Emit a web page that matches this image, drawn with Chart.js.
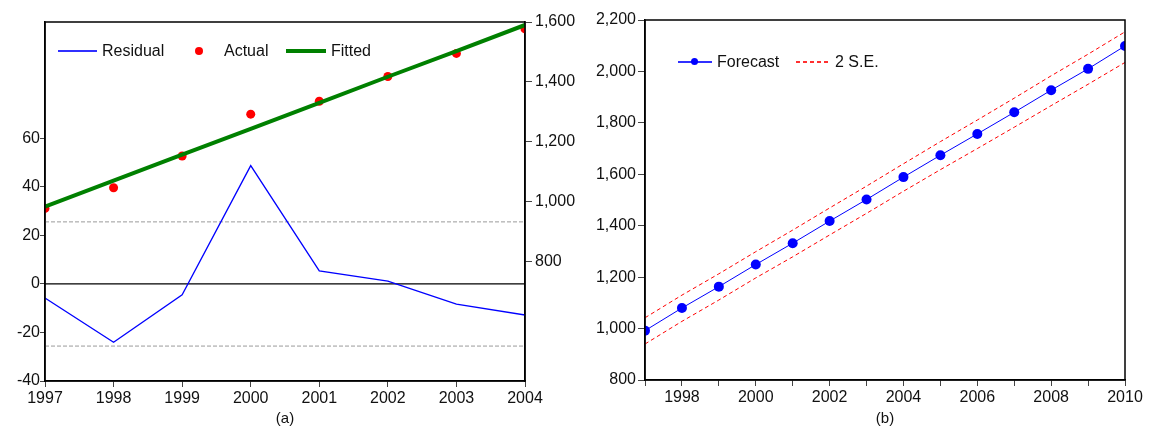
<!DOCTYPE html>
<html>
<head>
<meta charset="utf-8">
<script src="https://cdn.jsdelivr.net/npm/chart.js@4.4.1/dist/chart.umd.min.js"></script>
<style>
  html, body { margin: 0; padding: 0; background: #fff; }
  body { width: 1151px; height: 430px; position: relative; overflow: hidden; font-family: "Liberation Sans", Arial, sans-serif; }
  .panel { position: absolute; top: 0; height: 430px; }
  .lg { position: absolute; font-size: 16px; line-height: 18px; color: #111; white-space: nowrap; }
  .mark { position: absolute; }
</style>
</head>
<body>
<div class="panel" style="left:0;width:590px"><canvas id="fitChart" width="590" height="430"></canvas></div>
<div class="panel" style="left:590px;width:561px"><canvas id="forecastChart" width="561" height="430"></canvas></div>

<!-- legend (a) -->
<div class="mark" style="left:58px;top:50px;width:39px;height:1.5px;background:#3030ff"></div>
<div class="lg" style="left:102px;top:42px">Residual</div>
<div class="mark" style="left:195px;top:46.5px;width:8px;height:8px;border-radius:50%;background:#ff0000"></div>
<div class="lg" style="left:224px;top:42px">Actual</div>
<div class="mark" style="left:286px;top:49px;width:40px;height:4px;background:#008000"></div>
<div class="lg" style="left:331px;top:42px">Fitted</div>

<!-- legend (b) -->
<div class="mark" style="left:678px;top:61px;width:34px;height:1.5px;background:#3030ff"></div>
<div class="mark" style="left:690.5px;top:58px;width:7px;height:7px;border-radius:50%;background:#0000ff"></div>
<div class="lg" style="left:717px;top:53px">Forecast</div>
<div class="mark" style="left:796px;top:61px;width:34px;height:1.5px;background:repeating-linear-gradient(90deg,#ff3030 0 4px,transparent 4px 7px)"></div>
<div class="lg" style="left:835px;top:53px">2 S.E.</div>

<script>
// ---- panel (a): actual, fitted, residual ----
const fitYears = [1997, 1998, 1999, 2000, 2001, 2002, 2003, 2004];
const actualValues = [977, 1046, 1152, 1292, 1335, 1418, 1495, 1577];
const fittedValues = [983, 1070, 1157, 1243, 1330, 1417, 1503, 1590];
const residualValues = [-5.8, -24, -4.5, 48.8, 5.4, 1.2, -8.3, -12.8];
const residualBand = 25.6;
const residualTicks = [-40, -20, 0, 20, 40, 60];
const levelTicks = [800, 1000, 1200, 1400, 1600];

// ---- panel (b): forecast with 2 S.E. band ----
const forecastYears = [1997, 1998, 1999, 2000, 2001, 2002, 2003, 2004, 2005, 2006, 2007, 2008, 2009, 2010];
const forecastValues = [992, 1080, 1163, 1249, 1332, 1418, 1502, 1589, 1674, 1757, 1841, 1927, 2010, 2099];
const upperValues = [1042, 1130, 1213, 1299, 1383, 1469, 1554, 1641, 1727, 1811, 1896, 1983, 2067, 2154];
const lowerValues = [940, 1028, 1111, 1197, 1279, 1364, 1448, 1534, 1618, 1700, 1783, 1867, 1950, 2035];

const FONT = { family: '"Liberation Sans", Arial, sans-serif', size: 16 };

function toPoints(xs, ys) {
  return xs.map((x, i) => ({ x, y: ys[i] }));
}

function flatLine(xs, value) {
  return [{ x: xs[0], y: value }, { x: xs[xs.length - 1], y: value }];
}

const frame = {
  id: 'frame',
  afterDatasetsDraw(chart) {
    const { ctx, chartArea: a } = chart;
    ctx.save();
    ctx.strokeStyle = '#000';
    ctx.lineWidth = 1.5;
    ctx.strokeRect(a.left, a.top, a.right - a.left, a.bottom - a.top);
    ctx.restore();
  },
};

function yearAxis(min, max, title, showLabel) {
  return {
    type: 'linear',
    position: 'bottom',
    min, max,
    afterFit: s => { s.height = title === '(a)' ? 49 : 50; },
    afterBuildTicks: s => {
      const ticks = [];
      for (let y = min; y <= max; y++) ticks.push({ value: y });
      s.ticks = ticks;
    },
    ticks: {
      autoSkip: false, maxRotation: 0, color: '#111', font: FONT, padding: 2,
      callback: v => (showLabel(v) ? String(v) : ''),
    },
    grid: { drawOnChartArea: false, drawTicks: true, tickLength: 6, color: '#444', tickWidth: 1 },
    border: { color: '#000', width: 1.5 },
    title: { display: true, text: title, color: '#111', font: { family: FONT.family, size: 15 }, padding: { top: 0, bottom: 2 } },
  };
}

new Chart(document.getElementById('fitChart'), {
  type: 'line',
  data: {
    datasets: [
      {
        label: 'Fitted', yAxisID: 'yLevel', order: 0,
        data: toPoints(fitYears, fittedValues),
        borderColor: '#008000', borderWidth: 4, pointRadius: 0, tension: 0,
      },
      {
        label: 'Actual', yAxisID: 'yLevel', order: 1, showLine: false,
        data: toPoints(fitYears, actualValues),
        pointRadius: 4.5, pointBackgroundColor: '#ff0000', pointBorderWidth: 0,
      },
      {
        label: 'Residual', yAxisID: 'yResid', order: 2,
        data: toPoints(fitYears, residualValues),
        borderColor: '#0000ff', borderWidth: 1.3, pointRadius: 0, tension: 0,
      },
      {
        label: 'zero', yAxisID: 'yResid', order: 3,
        data: flatLine(fitYears, 0),
        borderColor: '#000', borderWidth: 1.2, pointRadius: 0,
      },
      {
        label: 'upper', yAxisID: 'yResid', order: 3,
        data: flatLine(fitYears, residualBand),
        borderColor: '#9a9a9a', borderWidth: 1, borderDash: [4, 2], pointRadius: 0,
      },
      {
        label: 'lower', yAxisID: 'yResid', order: 3,
        data: flatLine(fitYears, -residualBand),
        borderColor: '#9a9a9a', borderWidth: 1, borderDash: [4, 2], pointRadius: 0,
      },
    ],
  },
  options: {
    responsive: false,
    animation: false,
    layout: { padding: { top: 22, right: 0, left: 0, bottom: 0 } },
    plugins: { legend: { display: false }, tooltip: { enabled: false } },
    scales: {
      x: yearAxis(1997, 2004, '(a)', () => true),
      yResid: {
        position: 'left', min: -40, max: 108,
        afterFit: s => { s.width = 45; },
        afterBuildTicks: s => { s.ticks = residualTicks.map(v => ({ value: v })); },
        ticks: { color: '#111', font: FONT, padding: 0 },
        grid: { drawOnChartArea: false, tickLength: 5, color: '#444' },
        border: { color: '#000', width: 1.5 },
      },
      yLevel: {
        position: 'right', min: 400, max: 1600,
        afterFit: s => { s.width = 65; },
        afterBuildTicks: s => { s.ticks = levelTicks.map(v => ({ value: v })); },
        ticks: { color: '#111', font: FONT, padding: 3, callback: v => v.toLocaleString('en-US') },
        grid: { drawOnChartArea: false, tickLength: 7, color: '#444' },
        border: { color: '#000', width: 1.5 },
      },
    },
  },
  plugins: [frame],
});

new Chart(document.getElementById('forecastChart'), {
  type: 'line',
  data: {
    datasets: [
      {
        label: 'Forecast', order: 0,
        data: toPoints(forecastYears, forecastValues),
        borderColor: '#0000ff', borderWidth: 1, tension: 0,
        pointRadius: 5, pointBackgroundColor: '#0000ff', pointBorderWidth: 0,
      },
      {
        label: '2 S.E.', order: 1,
        data: toPoints(forecastYears, upperValues),
        borderColor: '#ff0000', borderWidth: 1, borderDash: [4, 3], pointRadius: 0, tension: 0,
      },
      {
        label: '2 S.E. lower', order: 1,
        data: toPoints(forecastYears, lowerValues),
        borderColor: '#ff0000', borderWidth: 1, borderDash: [4, 3], pointRadius: 0, tension: 0,
      },
    ],
  },
  options: {
    responsive: false,
    animation: false,
    layout: { padding: { top: 20, right: 26, left: 0, bottom: 0 } },
    plugins: { legend: { display: false }, tooltip: { enabled: false } },
    scales: {
      x: yearAxis(1997, 2010, '(b)', v => v % 2 === 0),
      y: {
        position: 'left', min: 800, max: 2200,
        afterFit: s => { s.width = 55; },
        ticks: { stepSize: 200, color: '#111', font: FONT, padding: 2, callback: v => v.toLocaleString('en-US') },
        grid: { drawOnChartArea: false, tickLength: 7, color: '#444' },
        border: { color: '#000', width: 1.5 },
      },
    },
  },
  plugins: [frame],
});
</script>
</body>
</html>
